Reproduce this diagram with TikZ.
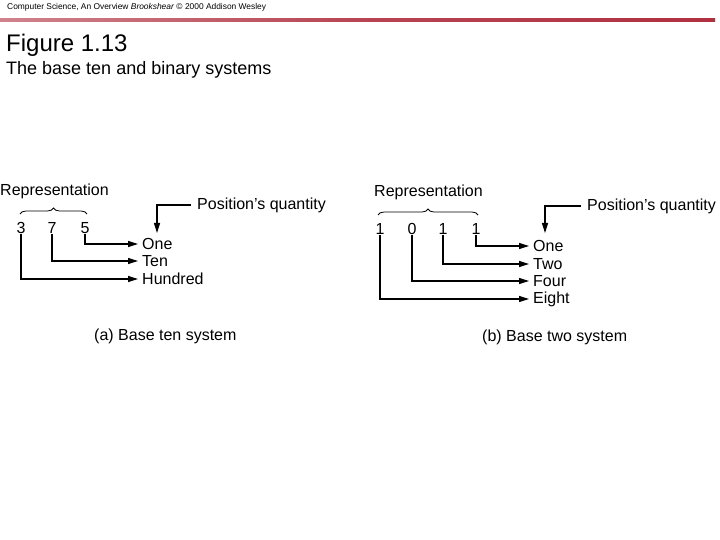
\documentclass[tikz,border=0pt]{standalone}
\usepackage{fontspec}
\setmainfont{Liberation Sans}
\usetikzlibrary{decorations.pathreplacing,arrows.meta}
\definecolor{hdr}{HTML}{B03040}
\tikzset{lbl/.style={anchor=west,inner sep=0pt,font=\fontsize{16}{18}\selectfont},
 dig/.style={inner sep=0pt,font=\fontsize{16}{18}\selectfont},
 conn/.style={line width=1.2pt,shorten >=4pt,-{Triangle[length=10pt,width=6pt]}},
 br/.style={decorate,decoration={brace,amplitude=6pt},line width=0.8pt}}
\begin{document}
\begin{tikzpicture}[x=1pt,y=-1pt]
\useasboundingbox (0,0) rectangle (720,540);
\node[anchor=west,inner sep=0pt,font=\fontsize{8.4}{10}\selectfont] (hd) at (7,7) {Computer Science, An Overview \textit{Brookshear} © 2000 Addison Wesley};
\shade[left color=hdr!60,right color=hdr,middle color=hdr!90] (0,18.5) rectangle (715,21.5);
\node[anchor=west,inner sep=0pt,font=\fontsize{24}{28}\selectfont] (t) at (6,45) {Figure 1.13};
\node[anchor=west,inner sep=0pt,font=\fontsize{18}{21}\selectfont] (s) at (6,70) {The base ten and binary systems};
% left
\node[lbl] (rl) at (0,191) {Representation};
\node[dig] (a3) at (21,228) {3};
\node[dig] (a7) at (52,228) {7};
\node[dig] (a5) at (85,228) {5};
\draw[br] (20,214) -- (87,214);
\node[lbl] (one) at (142,244) {One};
\node[lbl] (ten) at (142,261) {Ten};
\node[lbl] (hun) at (142,279) {Hundred};
\node[lbl] (pq) at (197,205) {Position’s quantity};
\draw[conn] (a5.south) |- (one.west);
\draw[conn] (a7.south) |- (ten.west);
\draw[conn] (a3.south) |- (hun.west);
\draw[conn,shorten >=0pt] (pq.west) ++(-6,0) -- (157,205) -- (157,233);
\node[lbl] (ca) at (94,336) {(a) Base ten system};
% right
\node[lbl] (rr) at (374,192) {Representation};
\node[dig] (b1) at (380,229) {1};
\node[dig] (b2) at (412,229) {0};
\node[dig] (b3) at (443,229) {1};
\node[dig] (b4) at (476,229) {1};
\draw[br] (378,215) -- (478,215);
\node[lbl] (o2) at (533,246) {One};
\node[lbl] (tw) at (533,264) {Two};
\node[lbl] (fo) at (533,281) {Four};
\node[lbl] (ei) at (533,299) {Eight};
\node[lbl] (pq2) at (587,206) {Position’s quantity};
\draw[conn] (b4.south) |- (o2.west);
\draw[conn] (b3.south) |- (tw.west);
\draw[conn] (b2.south) |- (fo.west);
\draw[conn] (b1.south) |- (ei.west);
\draw[conn,shorten >=0pt] (pq2.west) ++(-6,0) -- (545,206) -- (545,233);
\node[lbl] (cb) at (482,337) {(b) Base two system};
\end{tikzpicture}
\end{document}
